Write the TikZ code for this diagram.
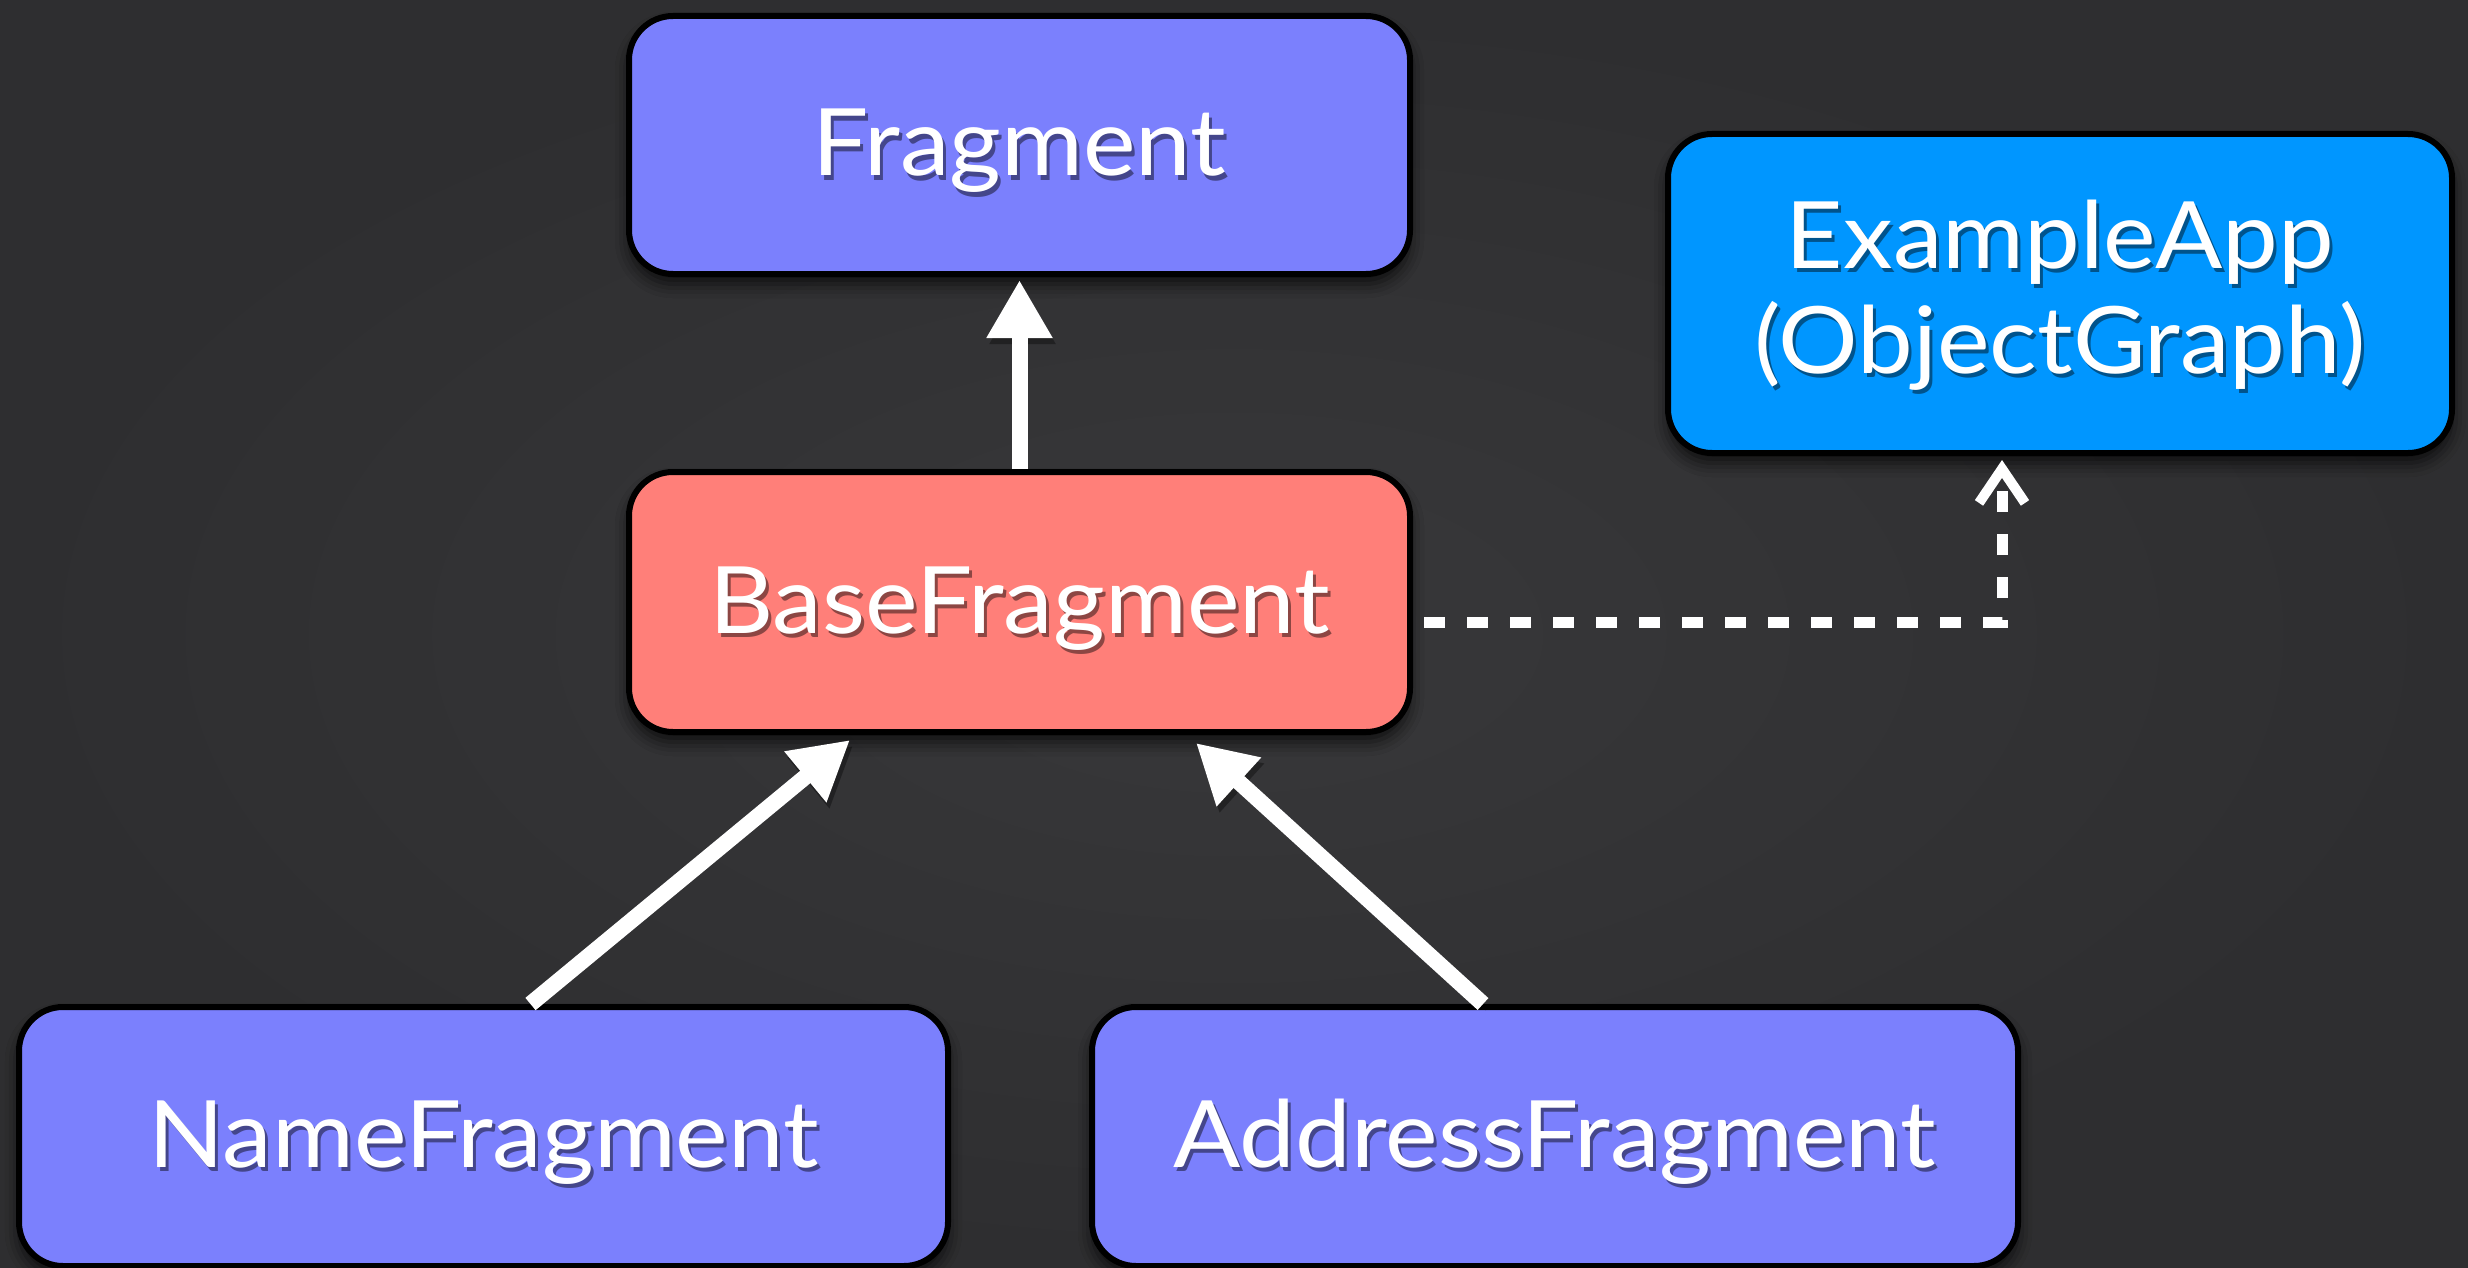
\documentclass[tikz,border=0pt]{standalone}
\usepackage{fontspec}
\setmainfont{Lato}[FakeStretch=1.07]
\usetikzlibrary{arrows.meta,calc,shadows.blur}

\definecolor{bgedge}{HTML}{2E2E30}
\definecolor{bgmid}{HTML}{38383A}
\definecolor{fragc}{HTML}{7B80FD}
\definecolor{basec}{HTML}{FF7F79}
\definecolor{appc}{HTML}{0096FF}

% white label with a soft dark copy just below it
\newcommand\shtxt[1]{\leavevmode\rlap{\raisebox{-2pt}{\hspace{1.5pt}\textcolor{tshadow}{#1}}}#1}

\tikzset{
  classbox/.style={
    draw=black, line width=3pt, rounded corners=22pt, fill=#1,
    text=white, inner sep=0pt, align=center,
    font=\fontsize{46.5}{52.5}\selectfont,
    execute at begin node={\colorlet{tshadow}{#1!55!black}},
    blur shadow={shadow xshift=0pt, shadow yshift=-5pt,
                 shadow blur radius=7pt, shadow opacity=70}
  },
  oneline/.style={text height=31pt, text depth=-8pt},
  inherit/.style={draw=white, line width=8pt,
    -{Triangle[length=29pt,width=31pt]},
    preaction={draw=black, opacity=0.35,
               transform canvas={xshift=1.5pt,yshift=-3pt}}},
  uses/.style={draw=white, line width=5.5pt,
    dash pattern=on 10.5pt off 11pt,
    -{Straight Barb[length=17pt,width=23pt,line width=5pt]}},
}

\begin{document}
\begin{tikzpicture}[x=0.5pt,y=-0.5pt]
  % dark backdrop
  \useasboundingbox (0,0) rectangle (2468,1268);
  \shade[inner color=bgmid, outer color=bgedge] (0,0) rectangle (2468,1268);

  % classes
  \node[classbox=fragc, oneline, minimum width=390.5pt, minimum height=129pt]
    (frag) at (1019.5,145) {\shtxt{Fragment}};
  \node[classbox=basec, oneline, minimum width=390.5pt, minimum height=130pt]
    (base) at (1019.5,602) {\shtxt{BaseFragment}};
  \node[classbox=appc, minimum width=392pt, minimum height=159.5pt,
        text height=80pt, text depth=0.5pt]
    (app) at (2060,293.5) {\shtxt{ExampleApp}\\\shtxt{(ObjectGraph)}};
  \node[classbox=fragc, oneline, minimum width=464.5pt, minimum height=129.5pt]
    (name) at (483.5,1136.5) {\shtxt{NameFragment}};
  \node[classbox=fragc, oneline, minimum width=463pt, minimum height=129.5pt]
    (addr) at (1555,1136.5) {\shtxt{AddressFragment}};

  % inheritance arrows
  \draw[inherit, shorten >=1.5pt] (base.north) -- (frag.south);
  \draw[inherit] ($(name.north)+(47,0)$) -- ($(base.south)+(-169.5,5)$);
  \draw[inherit] ($(addr.north)+(-72,0)$) -- ($(base.south)+(176.5,8)$);

  % dependency on the object graph
  \coordinate (bend) at ($(app.south)+(-58,0)$);
  \draw[uses] ($(base.east)+(11,20)$) -| ($(bend)+(0,4)$);
\end{tikzpicture}
\end{document}
